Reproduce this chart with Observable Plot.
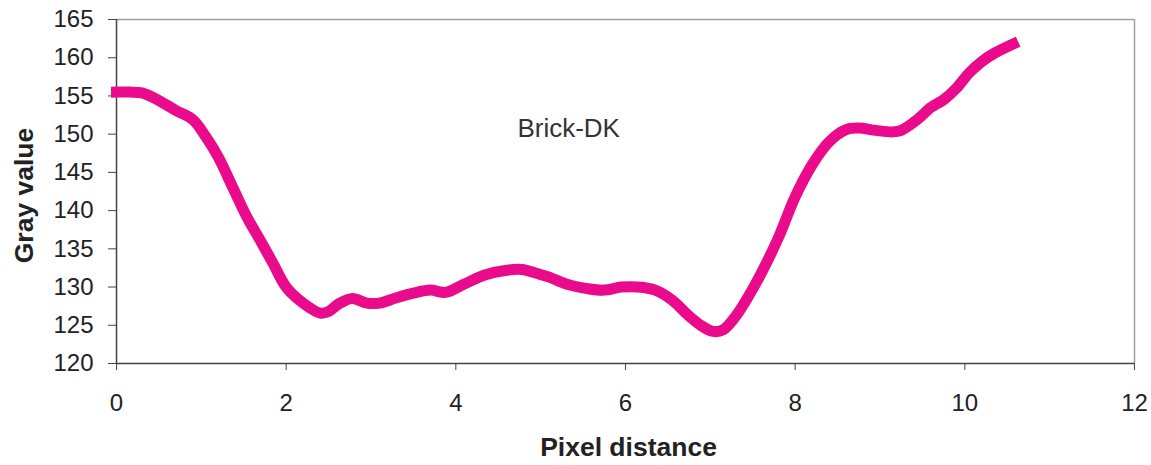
<!DOCTYPE html>
<html>
<head>
<meta charset="utf-8">
<script src="https://cdn.jsdelivr.net/npm/d3@7"></script>
<script src="https://cdn.jsdelivr.net/npm/@observablehq/plot@0.6"></script>
<style>
  html, body { margin: 0; padding: 0; background: #fff; }
  #chart svg { display: block; }
</style>
</head>
<body>
<div id="chart"></div>
<script>
const distance = [0, 0.15, 0.3, 0.5, 0.7, 0.9, 1.05, 1.2, 1.38, 1.54, 1.7, 1.85, 2.0, 2.2, 2.4, 2.5, 2.62, 2.78, 2.95, 3.1, 3.3, 3.5, 3.7, 3.88, 4.1, 4.35, 4.6, 4.78, 4.95, 5.1, 5.3, 5.55, 5.75, 5.95, 6.15, 6.35, 6.55, 6.75, 6.9, 7.03, 7.15, 7.3, 7.45, 7.6, 7.8, 8.0, 8.2, 8.4, 8.6, 8.75, 8.95, 9.15, 9.25, 9.45, 9.6, 9.75, 9.9, 10.05, 10.2, 10.35, 10.57];
const gray = [155.5, 155.5, 155.4, 154.4, 153.1, 151.9, 149.7, 147.0, 142.8, 139.1, 136.0, 133.0, 130.0, 127.9, 126.6, 126.8, 127.8, 128.5, 127.9, 127.9, 128.6, 129.2, 129.6, 129.3, 130.4, 131.6, 132.2, 132.3, 131.8, 131.3, 130.4, 129.8, 129.6, 130.0, 130.0, 129.6, 128.3, 126.2, 124.9, 124.2, 124.4, 126.2, 128.8, 131.8, 136.4, 141.8, 146.0, 149.0, 150.6, 150.8, 150.5, 150.3, 150.5, 152.0, 153.5, 154.5, 156.0, 158.0, 159.5, 160.6, 161.8];
const xTicks = [0, 2, 4, 6, 8, 10, 12];
const yTicks = [120, 125, 130, 135, 140, 145, 150, 155, 160, 165];
const seriesLabel = "Brick-DK";
const labelAt = {x: 5.33, y: 150.7};
const xTitle = "Pixel distance";
const yTitle = "Gray value";

const data = distance.map((d, i) => ({x: d, y: gray[i]}));

const chart = Plot.plot({
  width: 1151,
  height: 465,
  marginLeft: 116,
  marginRight: 17,
  marginTop: 19,
  marginBottom: 102,
  style: {fontFamily: "Liberation Sans, Arial, sans-serif", background: "#fff"},
  x: {domain: [0, 12], ticks: xTicks},
  y: {domain: [120, 165], ticks: yTicks},
  marks: [
    Plot.ruleY([165], {stroke: "#a0a0a0", strokeWidth: 1.5}),
    Plot.ruleX([12], {stroke: "#a0a0a0", strokeWidth: 1.5}),
    Plot.axisX({ticks: xTicks, tickSize: 7, tickPadding: 23, fontSize: 24, label: null, stroke: "#444", color: "#222"}),
    Plot.axisY({ticks: yTicks, tickSize: 8, tickPadding: 15, fontSize: 24, label: null, stroke: "#444", color: "#222"}),
    Plot.ruleX([0], {stroke: "#444", strokeWidth: 1.5}),
    Plot.ruleY([120], {stroke: "#444", strokeWidth: 1.5}),
    Plot.line(data, {x: "x", y: "y", stroke: "#ea0a8c", strokeWidth: 11, curve: "catmull-rom", strokeLinecap: "square", strokeLinejoin: "round"}),
    Plot.text([labelAt], {x: "x", y: "y", text: () => seriesLabel, fontSize: 26, fill: "#333"}),
    Plot.text([yTitle], {frameAnchor: "left", textAnchor: "middle", rotate: -90, dx: -92, dy: 4, fontSize: 26.5, fontWeight: "bold", fill: "#222"}),
    Plot.text([xTitle], {frameAnchor: "bottom", textAnchor: "middle", dy: 92, dx: 3, fontSize: 26.5, fontWeight: "bold", fill: "#222"})
  ]
});
document.getElementById("chart").appendChild(chart);
</script>
</body>
</html>
